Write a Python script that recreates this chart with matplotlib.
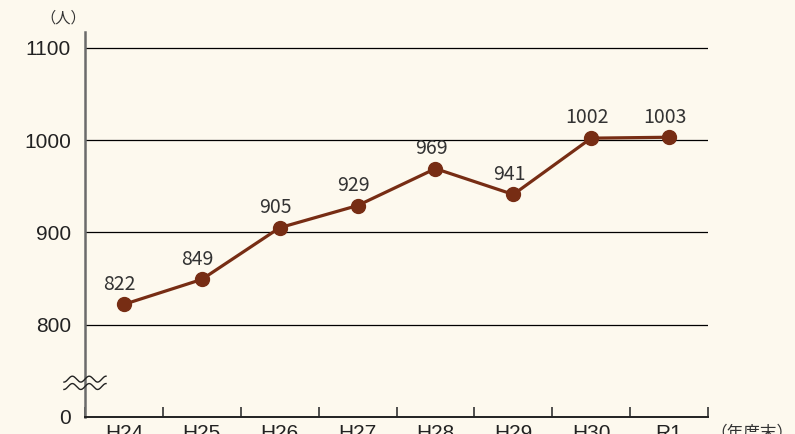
import numpy as np
import matplotlib.pyplot as plt

years = ['H24', 'H25', 'H26', 'H27', 'H28', 'H29', 'H30', 'R1']
people = [822, 849, 905, 929, 969, 941, 1002, 1003]
ytick_vals = [700, 800, 900, 1000, 1100]
ytick_labels = ['0', '800', '900', '1000', '1100']

bg = '#fdf9ee'
brown = '#772d14'

fig = plt.figure(figsize=(7.95, 4.34), dpi=100, facecolor=bg)
ax = fig.add_axes([0.1069, 0.0392, 0.7837, 0.8871], facecolor=bg)

x = np.arange(len(years))
ax.set_xlim(-0.5, len(years) - 0.5)
ax.set_ylim(700, 1117)

# grid lines
for v in ytick_vals[1:]:
    ax.axhline(v, color='black', lw=0.9, zorder=1)

ax.plot(x, people, color=brown, lw=2.3, marker='o', markersize=10, zorder=3)
for xi, v in zip(x, people):
    ax.annotate(str(v), (xi, v), xytext=(-3, 7), textcoords='offset points',
                ha='center', va='bottom', fontsize=14, color='#333333',
                family=['Noto Sans CJK JP', 'DejaVu Sans'])

for s in ['top', 'right']:
    ax.spines[s].set_visible(False)
ax.spines['left'].set_color('#6b6b6b')
ax.spines['left'].set_linewidth(1.8)
ax.spines['bottom'].set_color('#222222')
ax.spines['bottom'].set_linewidth(1.4)

ax.set_yticks(ytick_vals)
ax.set_yticklabels(ytick_labels, fontsize=15, family='Liberation Sans', color='#222222')
ax.tick_params(axis='y', length=0, pad=10)

ax.set_xticks(np.arange(len(years) + 1) - 0.5)
ax.set_xticklabels([])
ax.tick_params(axis='x', which='major', direction='in', length=7, width=1.2, color='#333333')
ax.set_xticks(x, minor=True)
ax.set_xticklabels(years, minor=True, fontsize=15, family='Liberation Sans', color='#222222')
ax.tick_params(axis='x', which='minor', length=0, pad=5)

# wavy break mark on the y axis
t = np.linspace(-0.27, 0.27, 200)
for off in [741, 733]:
    wy = off + 3.2 * np.sin(t / 0.54 * 2 * np.pi * 2.5)
    ax.plot(t - 0.5, wy, color='#222222', lw=1.0, clip_on=False, zorder=4)

fig.text(0.079, 0.958, '（人）', fontsize=11, family=['Noto Sans CJK JP', 'DejaVu Sans'],
         ha='center', va='center', color='#333333')
fig.text(0.893, 0.0, '（年度末）', fontsize=12, family=['Noto Sans CJK JP', 'DejaVu Sans'],
         ha='left', va='center', color='#333333')

fig.savefig('out.png', dpi=100, facecolor=bg)
